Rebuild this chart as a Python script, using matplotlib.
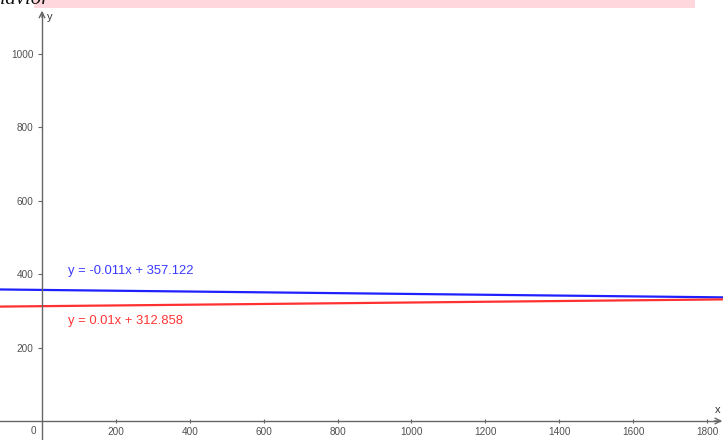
import matplotlib
matplotlib.use("Agg")
import matplotlib.pyplot as plt
from matplotlib.patches import Rectangle
import numpy as np

# Data
# ----
x_ticks = [200, 400, 600, 800, 1000, 1200, 1400, 1600, 1800]
y_ticks = [200, 400, 600, 800, 1000]
blue_slope, blue_icpt = -0.011, 357.122
red_slope, red_icpt = 0.01, 312.858
blue_label = "y = -0.011x + 357.122"
red_label = "y = 0.01x + 312.858"

plt.rcParams['font.family'] = ['Liberation Sans', 'DejaVu Sans']

fig = plt.figure(figsize=(7.23, 4.40), dpi=100)
ax = fig.add_axes([0, 0, 1, 1])
ax.set_xlim(-113.7, 1843.3)
ax.set_ylim(-51.8, 1147.1)

axis_col = '#666666'
for s in ['top', 'right']:
  ax.spines[s].set_visible(False)
ax.spines['left'].set_position(('data', 0))
ax.spines['bottom'].set_position(('data', 0))
ax.spines['left'].set_bounds(-51.8, 1112)
ax.spines['bottom'].set_bounds(-113.7, 1836)
for s in ['left', 'bottom']:
  ax.spines[s].set_color(axis_col)
  ax.spines[s].set_linewidth(1.0)

# arrow heads
ax.annotate('', xy=(0, 1118), xytext=(0, 1100),
            arrowprops=dict(arrowstyle='->', color=axis_col, lw=1.0, shrinkA=0, shrinkB=0))
ax.annotate('', xy=(1841, 0), xytext=(1820, 0),
            arrowprops=dict(arrowstyle='->', color=axis_col, lw=1.0, shrinkA=0, shrinkB=0))
ax.text(13, 1100, 'y', fontsize=8, color='#333333', va='center')
ax.text(1830, 22, 'x', fontsize=8, color='#333333', ha='center')

ax.set_xticks(x_ticks)
ax.set_yticks(y_ticks)
ax.tick_params(axis='both', colors=axis_col, labelcolor='#505050', labelsize=7.2,
               length=3, width=0.8)
ax.tick_params(axis='x', direction='inout', pad=3)
ax.tick_params(axis='y', direction='out', pad=3)
ax.text(-24, -27, '0', fontsize=7.2, color='#505050', ha='center', va='center')

# lines
xs = np.array([-113.7, 1843.3])
ax.plot(xs, blue_slope * xs + blue_icpt, color='#2020ff', lw=1.6)
ax.plot(xs, red_slope * xs + red_icpt, color='#ff3030', lw=1.6)
ax.text(70, 409, blue_label, color='#3a3aff', fontsize=9.4, va='center')
ax.text(70, 272, red_label, color='#ff3535', fontsize=9.4, va='center')

# clipped header band from the screenshot
fig.patches.append(Rectangle((34 / 723, 1 - 8 / 440), (695 - 34) / 723, 8 / 440,
                             transform=fig.transFigure, facecolor='#ffd7dc',
                             edgecolor='none', zorder=0))
fig.text(50 / 723, 1 - 3.5 / 440, 'behavior', family='Liberation Serif', style='italic',
         fontsize=15, ha='right', va='baseline', color='#111111')

plt.savefig('out.png', dpi=100)
